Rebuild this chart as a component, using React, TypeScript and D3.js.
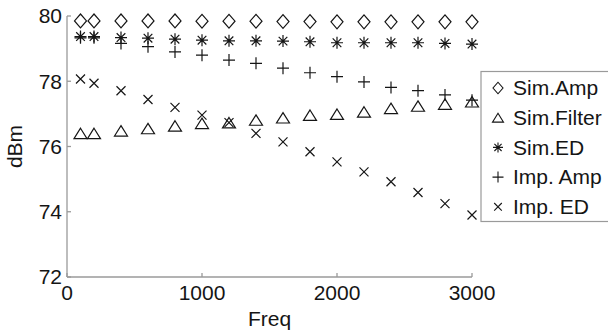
import React from 'react';
import * as d3 from 'd3';

const freq = [100, 200, 400, 600, 800, 1000, 1200, 1400, 1600, 1800, 2000, 2200, 2400, 2600, 2800, 3000];
const simAmp = [79.85, 79.85, 79.85, 79.85, 79.85, 79.84, 79.84, 79.84, 79.83, 79.83, 79.82, 79.82, 79.82, 79.82, 79.82, 79.82];
const simFilter = [76.4, 76.4, 76.48, 76.55, 76.63, 76.71, 76.73, 76.81, 76.88, 76.96, 76.99, 77.06, 77.17, 77.24, 77.3, 77.37];
const simED = [79.37, 79.37, 79.34, 79.32, 79.29, 79.26, 79.24, 79.24, 79.23, 79.21, 79.18, 79.18, 79.18, 79.18, 79.16, 79.14];
const impAmp = [79.33, 79.33, 79.16, 79.06, 78.9, 78.8, 78.65, 78.55, 78.4, 78.26, 78.14, 77.98, 77.81, 77.71, 77.58, 77.42];
const impED = [78.07, 77.94, 77.71, 77.44, 77.2, 76.96, 76.73, 76.4, 76.14, 75.84, 75.53, 75.22, 74.92, 74.59, 74.25, 73.9];

const xTicks = [0, 1000, 2000, 3000];
const yTicks = [72, 74, 76, 78, 80];

const seriesNames = ['Sim.Amp', 'Sim.Filter', 'Sim.ED', 'Imp. Amp', 'Imp. ED'];
const seriesKinds = ['diamond', 'triangle', 'asterisk', 'plus', 'cross'];
const seriesValues = [simAmp, simFilter, simED, impAmp, impED];

const W = 608;
const H = 335;
const margin = { top: 16, left: 67, bottom: 58, right: 136 };
const font = '"Liberation Sans", Arial, Helvetica, sans-serif';
const axisColor = '#9a9a9a';
const ink = '#151515';

// custom marker shapes, size = half-extent in px
const shapes: Record<string, d3.SymbolType> = {
  diamond: {
    draw(ctx, r) {
      const h = r * 1.15;
      ctx.moveTo(0, -h);
      ctx.lineTo(r, 0);
      ctx.lineTo(0, h);
      ctx.lineTo(-r, 0);
      ctx.closePath();
    },
  },
  triangle: {
    draw(ctx, r) {
      const h = r * 0.8;
      ctx.moveTo(0, -h);
      ctx.lineTo(r, h);
      ctx.lineTo(-r, h);
      ctx.closePath();
    },
  },
  asterisk: {
    draw(ctx, r) {
      const d = r * 0.72;
      ctx.moveTo(-r, 0); ctx.lineTo(r, 0);
      ctx.moveTo(0, -r); ctx.lineTo(0, r);
      ctx.moveTo(-d, -d); ctx.lineTo(d, d);
      ctx.moveTo(-d, d); ctx.lineTo(d, -d);
    },
  },
  plus: {
    draw(ctx, r) {
      ctx.moveTo(-r, 0); ctx.lineTo(r, 0);
      ctx.moveTo(0, -r); ctx.lineTo(0, r);
    },
  },
  cross: {
    draw(ctx, r) {
      ctx.moveTo(-r, -r); ctx.lineTo(r, r);
      ctx.moveTo(-r, r); ctx.lineTo(r, -r);
    },
  },
};

const plotSize: Record<string, number> = { diamond: 6, triangle: 6.5, asterisk: 6, plus: 6, cross: 4.5 };
const legendSize: Record<string, number> = { diamond: 5, triangle: 5.5, asterisk: 5, plus: 5.5, cross: 3.8 };

export default function App() {
  const x = d3.scaleLinear().domain([0, 3000]).range([margin.left, W - margin.right]);
  const y = d3.scaleLinear().domain([72, 80]).range([H - margin.bottom, margin.top]);
  const sym = (kind: string, r: number) => d3.symbol(shapes[kind], r)() || '';

  const legend = { x: 481, y: 71.5, w: 150, rowH: 29.7 };

  return (
    <svg width={W} height={H} style={{ position: 'absolute', left: 0, top: 0, background: '#fff' }} fontFamily={font}>
      <rect width={W} height={H} fill="#fff" />
      {/* axes */}
      <g stroke={axisColor} strokeWidth={1.3} fill="none">
        <line x1={x(0)} x2={x(0)} y1={y(72)} y2={y(80)} />
        <line x1={x(0)} x2={x(3000)} y1={y(72)} y2={y(72)} />
        {yTicks.map(t => (
          <line key={'yt' + t} x1={x(0)} x2={x(0) + 4} y1={y(t)} y2={y(t)} />
        ))}
        {xTicks.map(t => (
          <line key={'xt' + t} x1={x(t)} x2={x(t)} y1={y(72)} y2={y(72) - 4} />
        ))}
      </g>
      <g fill={ink} fontSize={21}>
        {yTicks.map(t => (
          <text key={'yl' + t} x={x(0) - 5} y={y(t)} dy="0.35em" textAnchor="end">{t}</text>
        ))}
        {xTicks.map(t => (
          <text key={'xl' + t} x={x(t)} y={y(72) + 23} textAnchor="middle">{t}</text>
        ))}
        <text x={(x(0) + x(3000)) / 2} y={326} textAnchor="middle">Freq</text>
        <text transform={`translate(22,${(y(72) + y(80)) / 2}) rotate(-90)`} textAnchor="middle">dBm</text>
      </g>
      {/* markers */}
      {seriesValues.map((vals, si) => (
        <g key={'s' + si} fill="none" stroke={ink} strokeWidth={1.2}>
          {vals.map((v, i) => (
            <path key={i} transform={`translate(${x(freq[i])},${y(v)})`} d={sym(seriesKinds[si], plotSize[seriesKinds[si]])} />
          ))}
        </g>
      ))}
      {/* legend */}
      <g>
        <rect x={legend.x} y={legend.y} width={legend.w} height={legend.rowH * 5 + 1.5} fill="#fff" stroke={axisColor} strokeWidth={1.2} />
        {seriesNames.map((name, i) => {
          const cy = legend.y + 16.5 + i * legend.rowH;
          return (
            <g key={name}>
              <path transform={`translate(498,${cy})`} d={sym(seriesKinds[i], legendSize[seriesKinds[i]])} fill="none" stroke={ink} strokeWidth={1.1} />
              <text x={513} y={cy} dy="0.35em" fontSize={21} fill={ink}>{name}</text>
            </g>
          );
        })}
      </g>
    </svg>
  );
}
